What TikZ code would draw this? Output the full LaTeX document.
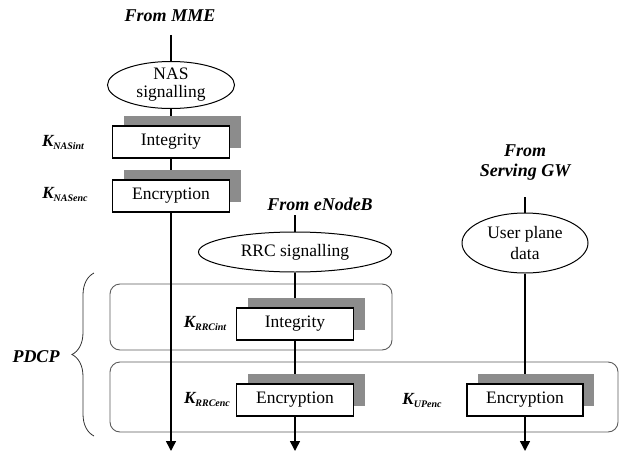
\documentclass[tikz,border=0pt]{standalone}
\usepackage{fontspec}
\setmainfont{Liberation Serif}
\usetikzlibrary{shapes.geometric,arrows.meta,shadows,decorations.pathreplacing}
\pgfdeclarelayer{frames}
\pgfdeclarelayer{wires}
\pgfsetlayers{frames,wires,main}
\definecolor{shade}{HTML}{8C8C8C}
\definecolor{frameline}{HTML}{5A5A5A}
\newcommand\kname[1]{K\raisebox{-3pt}{\fontsize{10}{11}\selectfont #1}}
\begin{document}
\begin{tikzpicture}[x=1pt,y=-1pt,
  lbl/.style={font=\fontsize{18}{20}\selectfont\bfseries\itshape, inner sep=0pt, align=center},
  keylbl/.style={font=\fontsize{17}{18}\selectfont\bfseries\itshape, inner sep=0pt},
  oval/.style={ellipse, draw, line width=1pt, inner sep=0pt},
  ovaltext/.style={font=\fontsize{17.5}{18}\selectfont, align=center, inner sep=0pt},
  fnbox/.style={draw, line width=1.2pt, fill=white, minimum width=117pt, minimum height=32pt, inner sep=0pt, font=\fontsize{17.5}{19}\selectfont, general shadow={fill=shade, shadow xshift=11pt, shadow yshift=10pt}},
  wire/.style={line width=1.5pt},
  flow/.style={wire, -{Triangle[length=10pt,width=10pt]}},
  frame/.style={draw=frameline, line width=0.9pt, rounded corners=10pt, inner sep=0pt, outer sep=0pt}
]
\useasboundingbox (0,0) rectangle (620,452);

% NAS column
\node[lbl] (mme) at (170,16) {From MME};
\coordinate (mmeTop) at (171,35);
\node[oval, minimum width=127pt, minimum height=47pt] (nas) at (171,85) {};
\node[ovaltext] (nasT) at (nas) {NAS\\signalling};
\node[fnbox] (nasint) at (171,142) {Integrity};
\node[fnbox] (nasenc) at (171,196) {Encryption};
\node[keylbl] (knasint) at (63,142) {\kname{NASint}};
\node[keylbl] (knasenc) at (65,194) {\kname{NASenc}};
\coordinate (nasEnd) at (171,451);

% RRC column
\node[lbl] (enb) at (320,204) {From eNodeB};
\coordinate (enbTop) at (295,215);
\node[oval, minimum width=193pt, minimum height=40pt] (rrc) at (295,252) {};
\node[ovaltext] (rrcT) at (rrc) {RRC signalling};
\node[fnbox] (rrcint) at (295,324) {Integrity};
\node[fnbox] (rrcenc) at (295,400) {Encryption};
\node[keylbl] (krrcint) at (205,323) {\kname{RRCint}};
\node[keylbl] (krrcenc) at (207,399) {\kname{RRCenc}};
\coordinate (rrcEnd) at (295,451);

% User plane column
\node[lbl] (sgw) at (525,163) {From\\Serving GW};
\coordinate (sgwTop) at (525,197);
\node[oval, minimum width=126pt, minimum height=60pt] (up) at (525,243) {};
\node[ovaltext, font=\fontsize{17.5}{21}\selectfont] (upT) at (up) {User plane\\data};
\node[fnbox, minimum width=116pt] (upenc) at (525,400) {Encryption};
\node[keylbl] (kupenc) at (422,400) {\kname{UPenc}};
\coordinate (upEnd) at (525,451);

% PDCP grouping
\node[lbl] (pdcp) at (36,357) {PDCP};
\coordinate (braceBot) at (94,436);
\coordinate (braceTop) at (94,273);
\draw[decorate, decoration={brace, amplitude=22pt}, line width=0.8pt, draw=black!80] (braceBot) -- (braceTop);

\begin{pgfonlayer}{frames}
\node[frame, minimum width=282pt, minimum height=66pt] (rrcgroup) at (251,317) {};
\node[frame, minimum width=508pt, minimum height=70pt] (encgroup) at (364,397) {};
\end{pgfonlayer}

\begin{pgfonlayer}{wires}
\draw[wire] (mmeTop) -- (nas.north);
\draw[wire] (nas) -- (nasint);
\draw[wire] (nasint) -- (nasenc);
\draw[flow] (nasenc) -- (nasEnd);
\draw[wire] (enbTop) -- (rrc.north);
\draw[wire] (rrc) -- (rrcint);
\draw[wire] (rrcint) -- (rrcenc);
\draw[flow] (rrcenc) -- (rrcEnd);
\draw[wire] (sgwTop) -- (up.north);
\draw[wire] (up) -- (upenc);
\draw[flow] (upenc) -- (upEnd);
\end{pgfonlayer}
\end{tikzpicture}
\end{document}
